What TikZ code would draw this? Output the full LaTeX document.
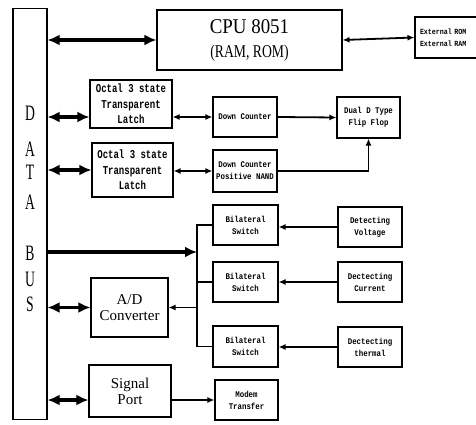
\documentclass[tikz,border=0pt]{standalone}
\usepackage{fontspec}
\newfontfamily\monoA{Liberation Mono}[FakeStretch=0.75]
\newfontfamily\monoB{Liberation Mono}[FakeStretch=0.85]
\newfontfamily\lserif{Liberation Serif}
\newfontfamily\lserifn{Liberation Serif}[FakeStretch=0.62]
\usetikzlibrary{arrows.meta,calc}
\newcommand\hsq[2]{\scalebox{#1}[1]{#2}}
\begin{document}
\begin{tikzpicture}[x=1pt,y=-1pt,
  frame/.style={draw,line width=1.1pt,inner sep=0pt,align=center},
  tiny/.style={frame,font=\monoB\bfseries\fontsize{8.7}{12}\selectfont},
  latch/.style={frame,font=\monoA\bfseries\fontsize{12}{15.5}\selectfont},
  mid/.style={frame,font=\lserif\fontsize{15}{16}\selectfont},
  letter/.style={font=\lserifn\fontsize{22}{22}\selectfont,inner sep=0pt},
  busarr/.style={line width=3.6pt,{Latex[length=12pt,width=11pt]}-{Latex[length=12pt,width=11pt]}},
  busone/.style={line width=3.6pt,-{Latex[length=12pt,width=11pt]}},
  thintwo/.style={line width=1.8pt,{Latex[length=7pt,width=6pt]}-{Latex[length=7pt,width=6pt]}},
  thinone/.style={line width=1.8pt,-{Latex[length=7pt,width=6pt]}},
  wire/.style={line width=1.8pt}]
\useasboundingbox (0,0) rectangle (476,425);
\clip (0,0) rectangle (476,425);

% data bus
\node[frame,minimum width=34,minimum height=411] (bus) at (30,214) {};
\node[letter] (l1) at (30,113) {D};
\node[letter] (l2) at (30,149) {A};
\node[letter] (l3) at (30,172) {T};
\node[letter] (l4) at (30,202) {A};
\node[letter] (l5) at (30,253) {B};
\node[letter] (l6) at (30,279) {U};
\node[letter] (l7) at (30,304) {S};

% boxes
\node[frame,font=\lserif\fontsize{21}{24}\selectfont,minimum width=185,minimum height=60] (cpu) at (249.5,40)
  {\hsq{0.9}{CPU 8051}\\\fontsize{18}{24}\selectfont\hsq{0.76}{(RAM, ROM)}};
\node[draw,line width=1.1pt,inner xsep=5pt,inner ysep=0pt,text width=75pt,minimum height=41,align=left,
  font=\monoB\bfseries\fontsize{7.8}{11.5}\selectfont] (ext) at (457.5,37.5) {External ROM\\External RAM};
\node[latch,minimum width=82,minimum height=48] (lat1) at (131,104) {Octal 3 state\\Transparent\\Latch};
\node[tiny,minimum width=64,minimum height=40] (dc) at (245,117) {Down Counter};
\node[tiny,minimum width=63,minimum height=41] (ff) at (368.5,117.5) {Dual D Type\\Flip Flop};
\node[latch,minimum width=81,minimum height=54] (lat2) at (132.5,170) {Octal 3 state\\Transparent\\Latch};
\node[tiny,minimum width=64,minimum height=42] (nand) at (245,171) {Down Counter\\Positive NAND};
\node[tiny,minimum width=65,minimum height=40] (sw1) at (245.5,225) {Bilateral\\Switch};
\node[tiny,minimum width=65,minimum height=40] (sw2) at (245.5,282) {Bilateral\\Switch};
\node[tiny,minimum width=65,minimum height=41] (sw3) at (245.5,346.5) {Bilateral\\Switch};
\node[tiny,minimum width=64,minimum height=40] (dv) at (370,227) {Detecting\\Voltage};
\node[tiny,minimum width=64,minimum height=40] (dcu) at (370,282) {Dectecting\\Current};
\node[tiny,minimum width=64,minimum height=40] (dth) at (370,347) {Dectecting\\thermal};
\node[mid,minimum width=77,minimum height=59] (ad) at (129.5,307.5) {A/D\\Converter};
\node[mid,minimum width=82,minimum height=52] (sp) at (130,391) {Signal\\Port};
\node[tiny,minimum width=63,minimum height=40] (modem) at (246.5,400) {Modem\\Transfer};

\coordinate (jx) at (197,252);

% connectors
\draw[busarr] (bus.east |- cpu.west) -- (cpu.west);
\draw[thintwo] (cpu.east) -- (ext.west);
\draw[busarr] (bus.east |- dc.west) -- (lat1.west |- dc.west);
\draw[thintwo] (lat1.east |- dc.west) -- (dc.west);
\draw[thinone] (dc.east) -- (ff.west);
\draw[busarr] (bus.east |- lat2.west) -- (lat2.west);
\draw[thintwo] (lat2.east |- nand.west) -- (nand.west);
\draw[thinone] (nand.east) -| (ff.south);
\draw[busone] (bus.east |- jx) -- (jx);
\draw[wire] (sw1.west) -| (jx |- sw3.west) -- (sw3.west);
\draw[wire] (jx |- sw2.west) -- (sw2.west);
\draw[thinone] (jx |- ad.east) -- (ad.east);
\draw[thinone] (dv.west) -- (sw1.east |- dv.west);
\draw[thinone] (dcu.west) -- (sw2.east);
\draw[thinone] (dth.west) -- (sw3.east |- dth.west);
\draw[busarr] (bus.east |- ad.west) -- (ad.west);
\draw[busarr] (bus.east |- modem.west) -- (sp.west |- modem.west);
\draw[thinone] (sp.east |- modem.west) -- (modem.west);
\end{tikzpicture}
\end{document}
